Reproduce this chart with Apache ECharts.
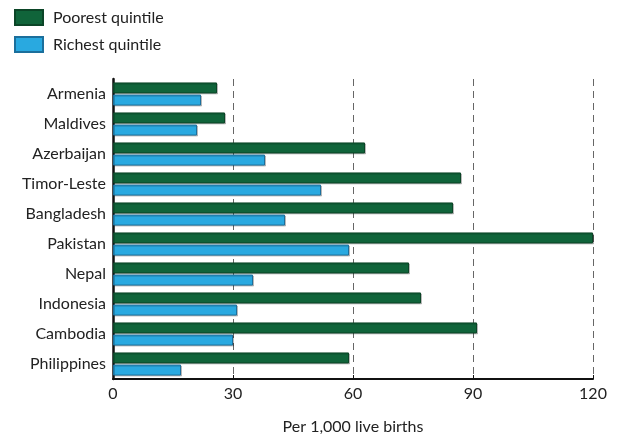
<!DOCTYPE html>
<html>
<head>
<meta charset="utf-8">
<script src="https://cdn.jsdelivr.net/npm/echarts@6/dist/echarts.min.js"></script>
<style>
html,body{margin:0;padding:0;background:#fff;}
#chart{width:622px;height:437px;}
</style>
</head>
<body>
<div id="chart"></div>
<script>
const categories = ['Armenia','Maldives','Azerbaijan','Timor-Leste','Bangladesh','Pakistan','Nepal','Indonesia','Cambodia','Philippines'];
const poorest = [26, 28, 63, 87, 85, 120, 74, 77, 91, 59];
const richest = [22, 21, 38, 52, 43, 59, 35, 31, 30, 17];
const xTicks = [0, 30, 60, 90, 120];
const seriesNames = ['Poorest quintile', 'Richest quintile'];

const FONT = 'Lato';
const chart = echarts.init(document.getElementById('chart'), null, {renderer: 'canvas'});
chart.setOption({
  animation: false,
  backgroundColor: '#fff',
  textStyle: {fontFamily: FONT},
  legend: {
    orient: 'vertical',
    left: 14, top: 9, padding: 0,
    itemWidth: 28, itemHeight: 15, itemGap: 10,
    icon: 'rect',
    itemStyle: {shadowColor: 'rgba(0,0,0,0)', shadowOffsetX: 0, shadowOffsetY: 0},
    textStyle: {fontFamily: FONT, fontSize: 16, color: '#222', padding: [0, 0, 0, 5]},
    data: seriesNames
  },
  grid: {left: 113, right: 29, top: 79, bottom: 58, containLabel: false, outerBoundsMode: 'none'},
  xAxis: {
    type: 'value', min: xTicks[0], max: xTicks[xTicks.length - 1], interval: 30,
    name: 'Per 1,000 live births', nameLocation: 'middle', nameGap: 40,
    nameTextStyle: {fontFamily: FONT, fontSize: 16, color: '#222'},
    axisLine: {show: true, lineStyle: {color: '#111', width: 2}},
    axisTick: {show: true, inside: true, length: 4, lineStyle: {color: '#111', width: 1}},
    axisLabel: {fontFamily: FONT, fontSize: 16, color: '#222', margin: 7},
    splitLine: {show: true, lineStyle: {color: '#666', type: [7, 5], width: 1}}
  },
  yAxis: {
    type: 'category', data: categories, inverse: true,
    axisLine: {show: true, lineStyle: {color: '#111', width: 2.5}},
    axisTick: {show: false},
    axisLabel: {fontFamily: FONT, fontSize: 16, color: '#222', margin: 7}
  },
  series: [
    {
      name: seriesNames[0], type: 'bar', data: poorest,
      barWidth: 11, barGap: '10%',
      itemStyle: {color: '#10643a', borderColor: '#0b4527', borderWidth: 1,
        shadowColor: 'rgba(0,0,0,0.2)', shadowOffsetX: 1, shadowOffsetY: 1}
    },
    {
      name: seriesNames[1], type: 'bar', data: richest,
      barWidth: 11, barGap: '10%',
      itemStyle: {color: '#29a9e0', borderColor: '#1b6f9c', borderWidth: 1,
        shadowColor: 'rgba(0,0,0,0.2)', shadowOffsetX: 1, shadowOffsetY: 1}
    }
  ]
});
</script>
</body>
</html>
